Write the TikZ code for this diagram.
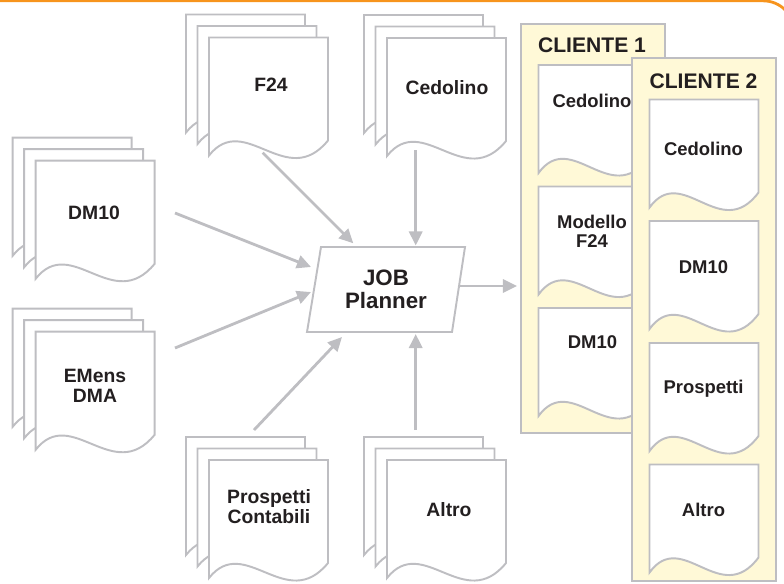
\documentclass[tikz,border=0pt]{standalone}
\usepackage{fontspec}
\setmainfont{Liberation Sans}
\usetikzlibrary{arrows.meta}
\definecolor{linegray}{RGB}{190,190,194}
\definecolor{paneltint}{RGB}{255,249,215}
\definecolor{inkdark}{RGB}{35,31,32}
\definecolor{frameorange}{RGB}{247,148,29}
% one sheet: left, top, width, height (pixel units, y down)
\newcommand{\docsheet}[4]{%
  \pgfmathsetmacro{\docR}{#1+#3}%
  \pgfmathsetmacro{\docB}{#2+#4}%
  \filldraw[sheet] (#1,#2) -- (\docR,#2) -- (\docR,\docB-15)
    .. controls (#1+0.65*#3,\docB+36) and (#1+0.3*#3,\docB-45) .. (#1,\docB) -- cycle;}
% stack of three sheets, given the front sheet's corner
\newcommand{\docstack}[2]{%
  \docsheet{#1-23}{#2-23}{119}{118}
  \docsheet{#1-11.5}{#2-11.5}{119}{118}
  \docsheet{#1}{#2}{119}{118}}

\begin{document}
\begin{tikzpicture}[x=0.02cm,y=-0.02cm,
    sheet/.style={draw=linegray,fill=white,line width=1.1pt},
    panel/.style={draw=linegray,fill=paneltint,line width=1.6pt},
    flow/.style={draw=linegray,line width=1.6pt,-{Triangle[length=8pt,width=7.5pt]}},
    stacklabel/.style={text=inkdark,align=center,inner sep=0pt,font=\bfseries\fontsize{11}{11.3}\selectfont},
    paperlabel/.style={text=inkdark,align=center,inner sep=0pt,font=\bfseries\fontsize{10.5}{11}\selectfont},
    clientlabel/.style={text=inkdark,inner sep=0pt,font=\bfseries\fontsize{12}{13}\selectfont},
    joblabel/.style={text=inkdark,align=center,inner sep=0pt,font=\bfseries\fontsize{12.7}{13}\selectfont}]
  \useasboundingbox (0,0) rectangle (784,583);
  % frame line
  \draw[frameorange,line width=1.6pt] (0,0.8) -- (763,0.8) .. controls (780,0.8) and (794,14) .. (794,32);

  % input stacks
  \docstack{35.7}{160.7}
  \node[stacklabel] (dm10) at (94,213) {DM10};
  \docstack{35.7}{331.7}
  \node[stacklabel] (emens) at (95,386) {EMens\\DMA};
  \docstack{209}{37.5}
  \node[stacklabel] (f24) at (271,85) {F24};
  \docstack{387}{38}
  \node[stacklabel] (cedo) at (447,88) {Cedolino};
  \docstack{209}{460}
  \node[stacklabel] (prosp) at (269,507) {Prospetti\\Contabili};
  \docstack{387}{460}
  \node[stacklabel] (altro) at (449,510) {Altro};

  % planner
  \filldraw[sheet] (321,247) -- (465,247) -- (452,332) -- (307,332) -- cycle;
  \node[joblabel] (job) at (386,289) {JOB\\Planner};

  % arrow ends
  \coordinate (dm10out) at (175,213);   \coordinate (jobin1) at (311,267);
  \coordinate (emensout) at (175,348);  \coordinate (jobin2) at (311,292);
  \coordinate (f24out) at (262.7,152.7); \coordinate (jobin3) at (353.3,243.3);
  \coordinate (cedoout) at (415.7,150); \coordinate (jobin4) at (415.7,245.5);
  \coordinate (prospout) at (254,430);  \coordinate (jobin5) at (342,337);
  \coordinate (altroout) at (415.7,430); \coordinate (jobin6) at (415.7,334);
  \coordinate (jobout) at (458,286);    \coordinate (clin) at (517,286);
  \draw[flow] (dm10out) -- (jobin1);
  \draw[flow] (emensout) -- (jobin2);
  \draw[flow] (f24out) -- (jobin3);
  \draw[flow] (cedoout) -- (jobin4);
  \draw[flow] (prospout) -- (jobin5);
  \draw[flow] (altroout) -- (jobin6);
  \draw[flow] (jobout) -- (clin);

  % client 1
  \filldraw[panel] (521,24) rectangle (665,433);
  \node[clientlabel] (cl1) at (592,45) {CLIENTE 1};
  \docsheet{538.5}{65}{110}{108}
  \node[paperlabel] (c1cedo) at (592,101) {Cedolino};
  \docsheet{538.5}{186.5}{110}{108}
  \node[paperlabel] (c1f24) at (592,231) {Modello\\F24};
  \docsheet{538.5}{308}{110}{108}
  \node[paperlabel] (c1dm10) at (592.5,341.7) {DM10};

  % client 2
  \filldraw[panel] (632,58) rectangle (776,581);
  \node[clientlabel] (cl2) at (703.5,81.5) {CLIENTE 2};
  \docsheet{649.5}{99.5}{109}{108}
  \node[paperlabel] (c2cedo) at (703.5,149) {Cedolino};
  \docsheet{649.5}{221}{109}{108}
  \node[paperlabel] (c2dm10) at (703.5,267) {DM10};
  \docsheet{649.5}{343}{109}{108}
  \node[paperlabel] (c2prosp) at (703.5,389) {Prospetti};
  \docsheet{649.5}{464.5}{109}{108}
  \node[paperlabel] (c2altro) at (703.5,510) {Altro};
\end{tikzpicture}
\end{document}
